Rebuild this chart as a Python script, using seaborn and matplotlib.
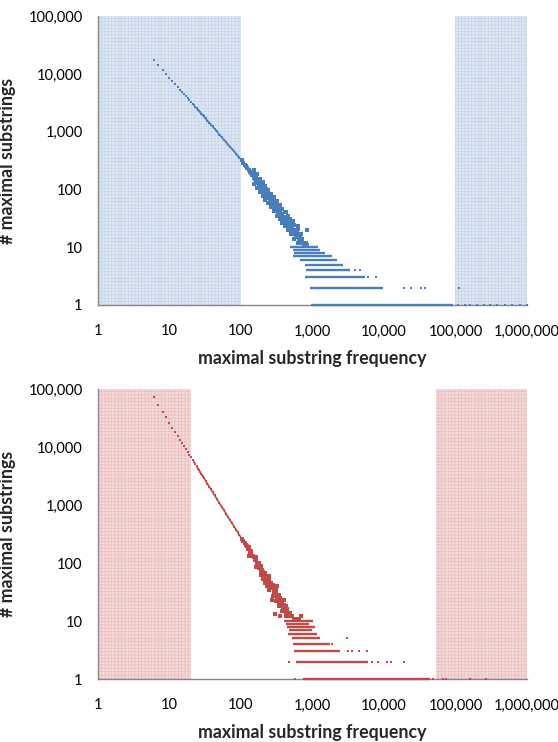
import numpy as np
import pandas as pd
import matplotlib
matplotlib.use("Agg")
import matplotlib.pyplot as plt
import seaborn as sns
from matplotlib.ticker import FixedLocator, FuncFormatter, NullLocator

# ---- top panel (blue) ----
TOP_SPANS = [(1, 100), (100_000, 1_000_000)]
TOP_DIAG_X = [6, 7, 8, 9, 10, 11, 12, 13, 14, 15, 16, 17, 18, 19, 20, 21, 22, 23, 24, 25,
              26, 27, 28, 29, 30, 32, 34, 36, 38, 40, 43, 46, 50, 54, 58, 62, 66, 70, 75,
              80, 85, 90, 95, 100]
TOP_DIAG_Y = [17500, 14100, 11700, 9950, 8590, 7540, 6680, 5970, 5380, 4900, 4480, 4110,
              3800, 3520, 3280, 3070, 2880, 2700, 2550, 2400, 2280, 2160, 2060, 1960, 1870,
              1700, 1560, 1440, 1330, 1236, 1117, 1012, 891, 800, 723, 658, 600, 552, 501,
              457, 420, 386, 357, 333]
TOP_CLOUD_X = [102, 108, 112, 118, 122, 128, 132, 138, 142, 148, 152, 158, 162, 168, 172,
               178, 182, 188, 194, 198, 205, 210, 215, 222, 228, 235, 240, 248, 255, 262,
               270, 278, 285, 292, 300, 310, 318, 325, 335, 345, 355, 365, 375, 388, 400,
               412, 425, 440, 455, 470, 485, 500, 520, 535, 550, 570, 590, 610, 640, 660,
               690, 720, 760, 800, 830, 850, 145, 175, 230, 260, 330, 420, 480, 620, 700,
               190, 215, 245, 280, 315, 350, 395, 450, 510, 580, 650, 740, 160, 270, 360,
               150, 165, 185, 200, 220, 240, 265, 290, 320, 350, 380, 410, 450, 500, 560, 620,
               150, 165, 185, 200, 220, 240, 265, 290, 320, 350, 380, 410, 450, 500, 560, 620,
               158, 175, 195, 212, 230, 255, 280, 305, 335, 365, 395, 430, 470, 530, 590]
TOP_CLOUD_Y = [320, 290, 268, 255, 238, 222, 200, 196, 178, 182, 160, 150, 163, 135, 146,
               120, 133, 108, 120, 96, 112, 92, 85, 101, 78, 88, 70, 80, 62, 76,
               58, 66, 52, 63, 46, 57, 44, 39, 50, 36, 42, 31, 38, 28, 34,
               26, 30, 23, 28, 21, 25, 18, 22, 29, 17, 20, 15, 18, 13, 16,
               12, 14, 11, 12, 20, 11, 205, 140, 95, 85, 46, 40, 31, 23, 17,
               114, 98, 72, 60, 50, 40, 33, 24, 20, 18, 14, 12, 146, 64, 36,
               215, 185, 150, 135, 115, 100, 85, 74, 62, 54, 46, 41, 35, 29, 24, 21,
               126, 108, 89, 78, 66, 58, 49, 42, 35, 31, 26, 23, 20, 17, 14, 12,
               154, 130, 108, 94, 82, 71, 59, 51, 44, 38, 33, 29, 25, 20, 17]
TOP_LEVELS = [1, 2, 3, 4, 5, 6, 7, 8, 9, 10]
TOP_LEVEL_START = [950, 930, 780, 820, 780, 670, 540, 560, 540, 480]
TOP_LEVEL_END = [92000, 9700, 5400, 3300, 2700, 2200, 1850, 1500, 1270, 1200]
TOP_SPARSE_X = [110000, 135000, 160000, 200000, 250000, 300000, 380000, 500000, 620000,
                800000, 1000000, 19000, 23600, 32500, 37700, 112000, 6000, 7700, 3900, 4600]
TOP_SPARSE_Y = [1, 1, 1, 1, 1, 1, 1, 1, 1, 1, 1, 2, 2, 2, 2, 2, 3, 3, 4, 4]

# ---- bottom panel (red) ----
BOT_SPANS = [(1, 20), (53_000, 1_000_000)]
BOT_DIAG_X = [6, 7, 8, 9, 10, 11, 12, 13, 14, 15, 16, 17, 18, 19, 20, 21, 22, 23, 24, 25,
              26, 27, 28, 29, 30, 32, 34, 36, 38, 40, 43, 46, 50, 54, 58, 62, 66, 70, 75,
              80, 85, 90, 95, 100]
BOT_DIAG_Y = [71900, 53000, 40600, 32300, 26100, 21700, 18200, 15600, 13400, 11700, 10300,
              9160, 8180, 7330, 6620, 6030, 5500, 5020, 4620, 4260, 3940, 3660, 3400, 3180,
              2970, 2620, 2320, 2070, 1860, 1680, 1460, 1270, 1080, 929, 807, 706, 622, 555,
              484, 426, 378, 338, 303, 274]
BOT_CLOUD_X = [104, 108, 112, 116, 120, 124, 128, 132, 136, 140, 145, 150, 155, 160, 165,
               170, 175, 180, 185, 190, 195, 200, 206, 212, 218, 225, 232, 240, 248, 255,
               262, 270, 278, 285, 292, 300, 310, 320, 330, 340, 352, 365, 378, 390, 405,
               420, 440, 460, 480, 500, 520, 300, 350, 270, 230, 200, 250, 320, 545, 600,
               650, 700, 400, 180, 210, 235, 260, 290, 335, 370, 430, 470,
               130, 160, 190, 220, 250, 280, 310, 340, 380, 420,
               130, 160, 190, 220, 250, 280, 310, 340, 380, 420]
BOT_CLOUD_Y = [255, 240, 222, 205, 195, 176, 172, 155, 160, 140, 132, 125, 112, 118, 100,
               96, 90, 82, 88, 72, 76, 66, 70, 58, 62, 52, 56, 47, 50, 42,
               46, 37, 40, 33, 36, 29, 32, 26, 28, 23, 25, 20, 22, 17, 19,
               15, 16, 13, 14, 12, 12, 13, 12, 23, 40, 52, 60, 40, 11, 11,
               11, 12, 23, 100, 64, 50, 38, 30, 21, 18, 14, 12,
               192, 125, 88, 66, 52, 41, 34, 28, 23, 18,
               133, 86, 61, 45, 34, 27, 22, 18, 15, 12]
BOT_LEVELS = [1, 2, 3, 4, 5, 6, 7, 8, 9, 10]
BOT_LEVEL_START = [730, 590, 560, 540, 510, 460, 470, 440, 420, 400]
BOT_LEVEL_END = [44000, 6000, 2450, 1760, 1270, 1150, 1000, 1080, 900, 1030]
BOT_SPARSE_X = [575, 48700, 67000, 74000, 160000, 270000, 470, 6900, 8200, 11100, 12500,
                19000, 3100, 3550, 4500, 5800, 1900, 3000]
BOT_SPARSE_Y = [1, 1, 1, 1, 1, 1, 2, 2, 2, 2, 2, 2, 3, 3, 3, 3, 4, 5]

TICKS_X = [1, 10, 100, 1000, 10000, 100000, 1000000]
TICKS_Y = [1, 10, 100, 1000, 10000, 100000]


def draw_panel(ax, color, shade_fc, shade_ec, spans, diag_x, diag_y, cloud_x, cloud_y,
               levels, lv_start, lv_end, sparse_x, sparse_y):
    ax.set_xscale("log")
    ax.set_yscale("log")
    ax.set_xlim(1, 1e6)
    ax.set_ylim(1, 1e5)

    for a, b in spans:
        ax.axvspan(a, b, facecolor=shade_fc, edgecolor=shade_ec, hatch="+++++",
                   linewidth=0, zorder=0)

    ax.hlines(levels, lv_start, lv_end, colors=color, linewidth=1.7, zorder=3, clip_on=False)

    # dense part of the diagonal reads as a dotted line
    dense = pd.DataFrame({"x": diag_x, "y": diag_y})
    dense = dense[dense["x"] >= 24]
    sns.lineplot(data=dense, x="x", y="y", ax=ax, color=color, linewidth=1.2,
                 zorder=3, legend=False)

    diag = pd.DataFrame({"x": diag_x, "y": diag_y})
    sns.scatterplot(data=diag, x="x", y="y", ax=ax, color=color, marker="s", s=4.5,
                    linewidth=0, zorder=4, legend=False)

    cloud = pd.DataFrame({"x": cloud_x, "y": cloud_y})
    sns.scatterplot(data=cloud, x="x", y="y", ax=ax, color=color, marker="s", s=6,
                    linewidth=0, zorder=4, legend=False)

    sparse = pd.DataFrame({"x": sparse_x, "y": sparse_y})
    sns.scatterplot(data=sparse, x="x", y="y", ax=ax, color=color, marker="s", s=4.5,
                    linewidth=0, zorder=4, clip_on=False, legend=False)

    ax.xaxis.set_major_locator(FixedLocator(TICKS_X))
    ax.yaxis.set_major_locator(FixedLocator(TICKS_Y))
    ax.xaxis.set_minor_locator(NullLocator())
    ax.yaxis.set_minor_locator(NullLocator())
    fmt = FuncFormatter(lambda v, p: f"{int(round(v)):,}")
    ax.xaxis.set_major_formatter(fmt)
    ax.yaxis.set_major_formatter(fmt)
    ax.tick_params(axis="both", which="major", length=5, width=0.8, color="#868686",
                   labelsize=10.5, labelcolor="black", direction="out", pad=6)
    ax.tick_params(axis="x", pad=9)

    for side in ("top", "right"):
        ax.spines[side].set_visible(False)
    for side in ("left", "bottom"):
        ax.spines[side].set_color("#868686")
        ax.spines[side].set_linewidth(1.0)

    ax.set_xlabel("maximal substring frequency", fontsize=12.8, fontweight="bold", labelpad=8)
    ax.set_ylabel("# maximal substrings", fontsize=12.8, fontweight="bold", labelpad=9)
    ax.grid(False)


sns.set_theme(style="white")
plt.rcParams["font.family"] = ["Lato", "DejaVu Sans"]
plt.rcParams["hatch.linewidth"] = 0.4

fig = plt.figure(figsize=(5.58, 7.42), dpi=100)
ax_top = fig.add_axes([0.1756, 0.589, 0.7688, 0.389])
ax_bot = fig.add_axes([0.1756, 0.0849, 0.7688, 0.3908])

draw_panel(ax_top, "#4a7ebb", "#dce6f2", "#c3d3e8", TOP_SPANS, TOP_DIAG_X, TOP_DIAG_Y,
           TOP_CLOUD_X, TOP_CLOUD_Y, TOP_LEVELS, TOP_LEVEL_START, TOP_LEVEL_END,
           TOP_SPARSE_X, TOP_SPARSE_Y)
draw_panel(ax_bot, "#be4b48", "#f3d9d9", "#e6b9b8", BOT_SPANS, BOT_DIAG_X, BOT_DIAG_Y,
           BOT_CLOUD_X, BOT_CLOUD_Y, BOT_LEVELS, BOT_LEVEL_START, BOT_LEVEL_END,
           BOT_SPARSE_X, BOT_SPARSE_Y)

fig.savefig("out.png", dpi=100)
